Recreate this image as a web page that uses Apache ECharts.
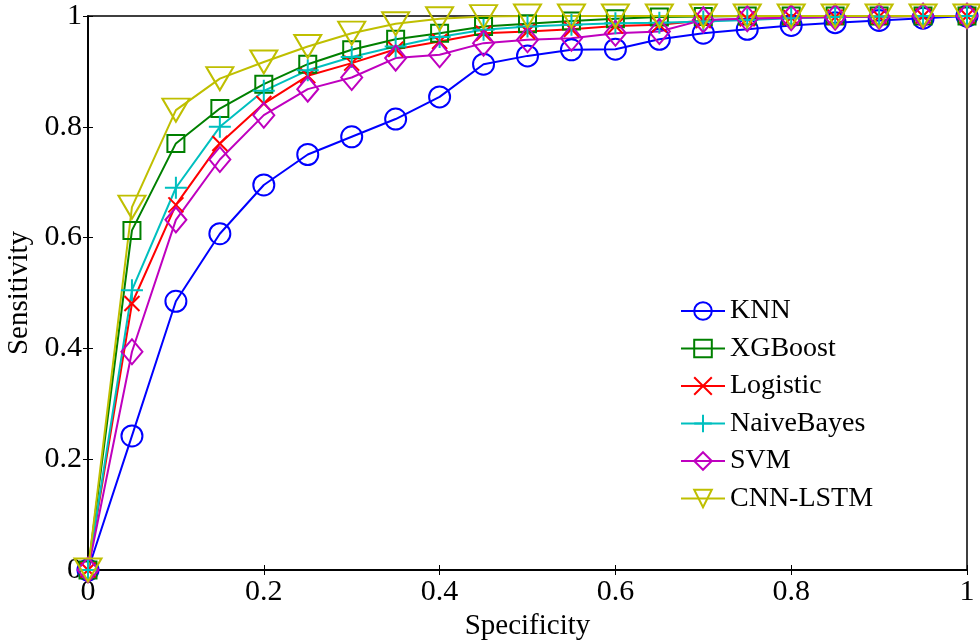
<!DOCTYPE html>
<html>
<head>
<meta charset="utf-8">
<script src="https://cdn.jsdelivr.net/npm/echarts@6/dist/echarts.min.js"></script>
<style>
html, body { margin: 0; padding: 0; background: #fff; }
#chartmain { width: 980px; height: 641px; }
</style>
</head>
<body>
<div id="chartmain"></div>
<script>
var specificity = [0, 0.05, 0.1, 0.15, 0.2, 0.25, 0.3, 0.35, 0.4, 0.45, 0.5, 0.55, 0.6, 0.65, 0.7, 0.75, 0.8, 0.85, 0.9, 0.95, 1];
var knn = [0, 0.242, 0.485, 0.607, 0.695, 0.750, 0.782, 0.814, 0.854, 0.913, 0.928, 0.939, 0.940, 0.958, 0.969, 0.976, 0.983, 0.988, 0.992, 0.996, 1];
var xgboost = [0, 0.613, 0.770, 0.833, 0.877, 0.913, 0.939, 0.958, 0.969, 0.981, 0.986, 0.991, 0.995, 0.998, 0.999, 1, 1, 1, 1, 1, 1];
var logistic = [0, 0.481, 0.659, 0.770, 0.842, 0.892, 0.915, 0.940, 0.954, 0.969, 0.972, 0.976, 0.982, 0.984, 0.992, 0.995, 0.997, 0.998, 0.999, 1, 1];
var naiveBayes = [0, 0.505, 0.690, 0.800, 0.865, 0.902, 0.926, 0.945, 0.962, 0.975, 0.981, 0.984, 0.987, 0.988, 0.990, 0.993, 0.996, 0.998, 0.999, 1, 1];
var svm = [0, 0.394, 0.632, 0.741, 0.821, 0.868, 0.889, 0.924, 0.930, 0.951, 0.957, 0.960, 0.969, 0.972, 0.993, 0.995, 0.997, 0.998, 0.999, 1, 1];
var cnnLstm = [0, 0.655, 0.830, 0.887, 0.917, 0.945, 0.969, 0.986, 0.995, 0.999, 1, 1, 1, 1, 1, 1, 1, 1, 1, 1, 1];
var names = ['KNN', 'XGBoost', 'Logistic', 'NaiveBayes', 'SVM', 'CNN-LSTM'];

var font = 'Liberation Serif, Times New Roman, serif';

function pairs(arr) {
	var out = [];
	for (var i = 0; i < arr.length; i++) {
		out.push([specificity[i], arr[i]]);
	}
	return out;
}

function makeSeries(name, data, color, symbol, size) {
	return {
		name: name,
		type: 'line',
		data: pairs(data),
		clip: false,
		symbol: symbol,
		symbolSize: size,
		showAllSymbol: true,
		lineStyle: { color: color, width: 2 },
		itemStyle: { color: 'rgba(0,0,0,0)', borderColor: color, borderWidth: 2 },
		emphasis: { disabled: true },
		animation: false
	};
}

var option = {
	backgroundColor: '#fff',
	grid: {
		left: 88, right: 13, top: 16, bottom: 71,
		outerBoundsMode: 'none', containLabel: false,
		show: true, borderColor: '#000', borderWidth: 1.5
	},
	legend: {
		orient: 'vertical',
		left: 675,
		top: 292,
		itemWidth: 44,
		itemHeight: 22,
		itemGap: 9.5,
		data: names,
		textStyle: { fontFamily: font, fontSize: 28, color: '#000' }
	},
	xAxis: [{
		type: 'value', min: 0, max: 1, interval: 0.2,
		name: 'Specificity', nameLocation: 'middle', nameGap: 36,
		nameTextStyle: { fontFamily: font, fontSize: 29, color: '#000' },
		axisLine: { show: true, lineStyle: { color: '#000', width: 1.5 } },
		axisTick: { show: true, inside: true, length: 5, lineStyle: { color: '#000' } },
		axisLabel: { fontFamily: font, fontSize: 30, color: '#000', margin: 7 },
		splitLine: { show: false }
	}, {
		type: 'value', min: 0, max: 1, interval: 0.2, position: 'top',
		axisLine: { show: true, lineStyle: { color: '#000', width: 1.5 } },
		axisTick: { show: true, inside: true, length: 5, lineStyle: { color: '#000' } },
		axisLabel: { show: false },
		splitLine: { show: false }
	}],
	yAxis: [{
		type: 'value', min: 0, max: 1, interval: 0.2,
		name: 'Sensitivity', nameLocation: 'middle', nameGap: 47,
		nameTextStyle: { fontFamily: font, fontSize: 29, color: '#000' },
		axisLine: { show: true, lineStyle: { color: '#000', width: 1.5 } },
		axisTick: { show: true, inside: true, length: 5, lineStyle: { color: '#000' } },
		axisLabel: { fontFamily: font, fontSize: 30, color: '#000', margin: 6 },
		splitLine: { show: false }
	}, {
		type: 'value', min: 0, max: 1, interval: 0.2, position: 'right',
		axisLine: { show: true, lineStyle: { color: '#000', width: 1.5 } },
		axisTick: { show: true, inside: true, length: 5, lineStyle: { color: '#000' } },
		axisLabel: { show: false },
		splitLine: { show: false }
	}],
	series: [
		makeSeries('KNN', knn, '#0000ff', 'circle', 21),
		makeSeries('XGBoost', xgboost, '#008000', 'rect', 17),
		makeSeries('Logistic', logistic, '#ff0000', 'path://M0,0L10,10M10,0L0,10', 15),
		makeSeries('NaiveBayes', naiveBayes, '#00bfbf', 'path://M5,0L5,10M0,5L10,5', 22),
		makeSeries('SVM', svm, '#bf00bf', 'diamond', [21, 25]),
		makeSeries('CNN-LSTM', cnnLstm, '#bfbf00', 'path://M0,0L10,0L5,8.5Z', [27, 23])
	]
};

var myChart = echarts.init(document.getElementById('chartmain'));
myChart.setOption(option);
</script>
</body>
</html>
